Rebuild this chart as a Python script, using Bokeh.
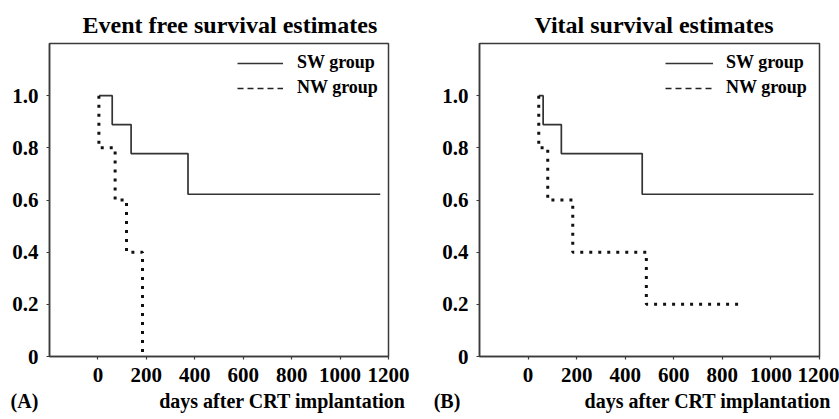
from bokeh.plotting import figure
from bokeh.models import (Range1d, FixedTicker, Legend, LegendItem, Title, LinearAxis)
from bokeh.layouts import row
from bokeh.embed import file_html
from bokeh.resources import INLINE

# ---- data (days, survival probability) ----
ef_sw_days = [5, 59, 137, 372, 1166]
ef_sw_surv = [1.0, 0.889, 0.778, 0.622, 0.622]
ef_nw_days = [4, 4, 71, 118, 184]
ef_nw_surv = [1.0, 0.8, 0.6, 0.4, 0.0]

vs_sw_days = [44, 62, 137, 470, 1175]
vs_sw_surv = [1.0, 0.889, 0.778, 0.622, 0.622]
vs_nw_days = [44, 44, 81, 184, 487, 875]
vs_nw_surv = [1.0, 0.8, 0.6, 0.4, 0.2, 0.2]

x_ticks = [0, 200, 400, 600, 800, 1000, 1200]
y_ticks = [0, 0.2, 0.4, 0.6, 0.8, 1.0]
y_tick_labels = {0: "0", 0.2: "0.2", 0.4: "0.4", 0.6: "0.6", 0.8: "0.8", 1.0: "1.0"}

titles = ["Event free survival estimates", "Vital survival estimates"]
panel_tags = ["(A)", "(B)"]
x_label = "days after CRT implantation"
series_names = ["SW group", "NW group"]

FONT = "Liberation Serif"
AX = "#3a3a3a"
NAN = float("nan")
NBSP = "\u00a0"


def make_panel(sw_x, sw_y, nw_x, nw_y, title, tag, width, bl, br, cfg):
    p = figure(width=width, height=419, output_backend="svg", toolbar_location=None,
               x_range=Range1d(-200, 1200), y_range=Range1d(0, 1.2),
               min_border_left=bl, min_border_right=br, min_border_top=43,
               min_border_bottom=63)
    p.background_fill_color = "white"
    p.border_fill_color = "white"
    p.xgrid.visible = False
    p.ygrid.visible = False
    p.outline_line_color = AX
    p.outline_line_width = 1.5

    for ax in (p.xaxis[0], p.yaxis[0]):
        ax.axis_line_color = AX
        ax.axis_line_width = 1.5
        ax.major_tick_line_color = AX
        ax.major_tick_line_width = 1.2
        ax.minor_tick_line_color = None
        ax.major_tick_in = 0
        ax.major_tick_out = 3
        ax.major_label_text_font = FONT
        ax.major_label_text_font_style = "bold"
        ax.major_label_text_font_size = "21px"
        ax.major_label_text_color = "black"
    p.xaxis.ticker = FixedTicker(ticks=x_ticks)
    p.yaxis.ticker = FixedTicker(ticks=y_ticks)
    p.yaxis.major_label_overrides = y_tick_labels
    p.xaxis.major_label_standoff = 8
    p.yaxis.major_label_standoff = 8

    # second (text-only) axis carrying the panel tag and the x-axis caption
    cap = LinearAxis(ticker=FixedTicker(ticks=[-200, cfg["xl"]]),
                     major_label_overrides={-200: tag + NBSP * cfg["pad"], cfg["xl"]: x_label},
                     axis_line_color=None, major_tick_line_color=None,
                     minor_tick_line_color=None, major_tick_in=0, major_tick_out=0,
                     major_label_standoff=5, major_label_text_font=FONT,
                     major_label_text_font_style="bold",
                     major_label_text_font_size="20px", major_label_text_color="black")
    p.add_layout(cap, "below")

    sw = p.step(sw_x, sw_y, mode="after", line_color="#333333", line_width=1.7)
    p.step(nw_x, nw_y, mode="after", line_color="#111111", line_width=3,
           line_dash="3 6")
    nw_leg = p.line(x=[NAN], y=[NAN], line_color="#222222", line_width=1.6,
                    line_dash="6 4")

    leg = Legend(items=[LegendItem(label=series_names[0], renderers=[sw]),
                        LegendItem(label=series_names[1], renderers=[nw_leg])],
                 location=cfg["leg"], padding=0, margin=0, spacing=4,
                 glyph_width=cfg["gw"], glyph_height=20, label_height=20,
                 label_standoff=cfg["ls"],
                 border_line_color=None, background_fill_alpha=0,
                 label_text_font=FONT, label_text_font_style="bold",
                 label_text_font_size="18px", label_text_color="black")
    p.add_layout(leg)

    p.add_layout(Title(text=title, align="left", offset=cfg["toff"], standoff=12,
                       text_font=FONT, text_font_style="bold", text_font_size="24px",
                       text_color="black"), "above")
    return p


p1 = make_panel(ef_sw_days, ef_sw_surv, ef_nw_days, ef_nw_surv, titles[0], panel_tags[0],
                425, 49, 37, dict(leg=(188, 258), gw=46, ls=14, toff=33, xl=762, pad=10))
p2 = make_panel(vs_sw_days, vs_sw_surv, vs_nw_days, vs_nw_surv, titles[1], panel_tags[1],
                414, 54, 20, dict(leg=(186, 258), gw=48, ls=13, toff=55, xl=740, pad=13))

layout = row(p1, p2)
open("out.html", "w").write(file_html(layout, INLINE))
